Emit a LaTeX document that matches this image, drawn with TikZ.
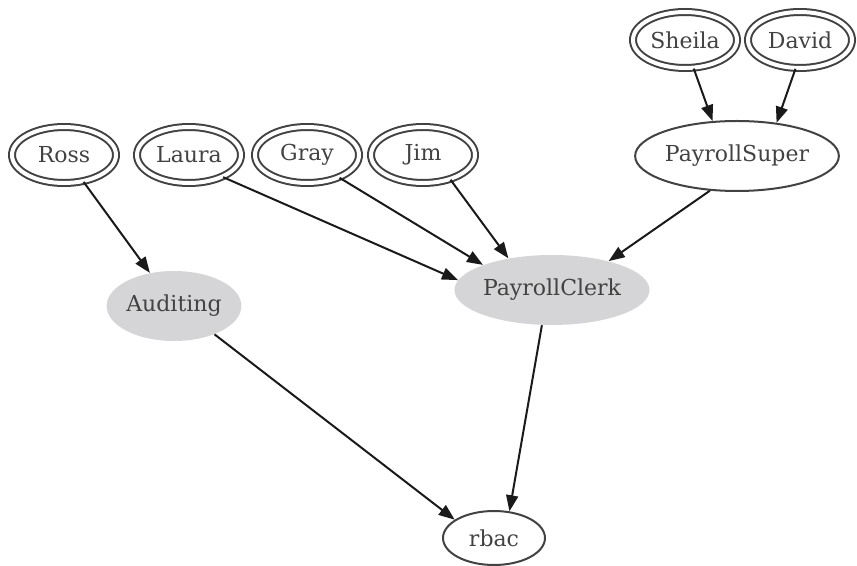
\documentclass[tikz,border=0pt]{standalone}
\usepackage{fontspec}
\usepackage{xcolor}
\usepackage{tikz}
\setmainfont{DejaVu Serif}
\usetikzlibrary{shapes.geometric,arrows.meta}
\definecolor{rbacink}{HTML}{424242}
\definecolor{rbacedge}{HTML}{1A1A1A}
\definecolor{rbacrole}{HTML}{D5D5D7}

\begin{document}
\begin{tikzpicture}[
    x=0.5pt, y=-0.5pt,
    label font/.style={text=rbacink, font=\fontsize{11}{13}\selectfont, inner sep=0pt},
    user/.style={ellipse, label font, draw=rbacink, double=white, double distance=2pt,
                 line width=1pt, minimum width=52pt, minimum height=28pt},
    role/.style={ellipse, label font, fill=rbacrole, minimum height=35pt},
    super/.style={ellipse, label font, draw=rbacink, line width=1pt},
    arrow/.style={-{Triangle[length=8pt, width=6pt]}, line width=1pt, color=rbacedge}
]
    \useasboundingbox (0,0) rectangle (857,566);

    % users
    \node[user] (ross)   at (64,155)  {Ross};
    \node[user] (laura)  at (189,155) {Laura};
    \node[user] (gray)   at (307,155) {Gray};
    \node[user] (jim)    at (423,155) {Jim};
    \node[user] (sheila) at (685,40)  {Sheila};
    \node[user] (david)  at (800,40)  {David};

    % roles
    \node[super, minimum width=96pt, minimum height=35pt] (psuper) at (737,156) {PayrollSuper};
    \node[role, minimum width=94.5pt] (pclerk)   at (552,290) {PayrollClerk};
    \node[role, minimum width=62.5pt] (auditing) at (174,306) {Auditing};
    \node[super, minimum width=51pt, minimum height=27pt] (rbac) at (494,538) {rbac};

    % assignments
    \draw[arrow] (sheila.-73) -- (psuper.125);
    \draw[arrow] (david.-99)  -- (psuper.40);
    \draw[arrow] (ross)       -- (auditing);
    \draw[arrow] (laura.-33)  -- (pclerk.174);
    \draw[arrow] (gray.-35)   -- (pclerk.160);
    \draw[arrow] (jim.-42)    -- (pclerk.144);
    \draw[arrow] (psuper.-128) -- (pclerk.27);
    \draw[arrow] (auditing.-35) -- (rbac.155);
    \draw[arrow] (pclerk.-106) -- (rbac.60);
\end{tikzpicture}
\end{document}
